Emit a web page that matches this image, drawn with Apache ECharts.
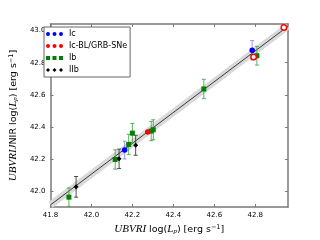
<!DOCTYPE html>
<html><head><meta charset="utf-8">
<script src="https://cdn.jsdelivr.net/npm/echarts@6/dist/echarts.min.js"></script>
<style>html,body{margin:0;background:#fff}#c{width:320px;height:240px}</style>
</head><body><div id="c"></div>
<script>
// tick labels
const xTicks = [41.8, 42.0, 42.2, 42.4, 42.6, 42.8];
const yTicks = [42.0, 42.2, 42.4, 42.6, 42.8, 43.0];
// Ic (blue)
const icX = [42.162, 42.785];
const icY = [42.258, 42.877];
const icErr = [0.055, 0.06];
// Ic-BL/GRB-SNe (red)
const icblX = [42.275, 42.792, 42.94];
const icblY = [42.370, 42.835, 43.018];
// Ib (green)
const ibX = [41.890, 42.116, 42.182, 42.200, 42.292, 42.302, 42.549, 42.808];
const ibY = [41.966, 42.200, 42.293, 42.363, 42.376, 42.384, 42.637, 42.843];
const ibErr = [0.057, 0.06, 0.063, 0.06, 0.06, 0.062, 0.06, 0.058];
// IIb (black)
const iibX = [41.925, 42.135, 42.216];
const iibY = [42.030, 42.204, 42.288];
const iibErr = [0.064, 0.06, 0.062];
// fit line endpoints
const fitX = [41.8, 42.96];
const fitY = [41.918, 43.026];

const XMIN = 41.8, XMAX = 42.96, YMIN = 41.905, YMAX = 43.04;

function errSeries(xs, ys, es, color) {
  return {
    type: 'custom', z: 3, silent: true,
    data: xs.map((x, i) => [x, ys[i], es[i]]),
    encode: {x: 0, y: 1},
    renderItem: (params, api) => {
      const x = api.value(0), y = api.value(1), e = api.value(2);
      const lo = api.coord([x, y - e]), hi = api.coord([x, y + e]);
      const w = 2;
      const st = {stroke: color, lineWidth: 0.9};
      return {type: 'group', children: [
        {type: 'line', shape: {x1: lo[0], y1: lo[1], x2: hi[0], y2: hi[1]}, style: st},
        {type: 'line', shape: {x1: lo[0] - w, y1: lo[1], x2: lo[0] + w, y2: lo[1]}, style: st},
        {type: 'line', shape: {x1: hi[0] - w, y1: hi[1], x2: hi[0] + w, y2: hi[1]}, style: st}
      ]};
    }
  };
}
const pts = (xs, ys) => xs.map((x, i) => [x, ys[i]]);

const rich = {
  i: {fontFamily: 'Liberation Serif', fontStyle: 'italic', fontSize: 11, color: '#000'},
  s: {fontFamily: 'Liberation Serif', fontStyle: 'italic', fontSize: 7, verticalAlign: 'bottom', color: '#000'},
  u: {fontFamily: 'DejaVu Sans', fontSize: 6.5, verticalAlign: 'top', color: '#000'}
};
const nameStyle = {fontFamily: 'DejaVu Sans', fontSize: 9.5, color: '#000', rich: rich};

const axLine = {lineStyle: {color: '#7a7a7a', width: 1.5}};
const tick = (vals) => ({inside: true, length: 3, customValues: vals, lineStyle: {color: '#7a7a7a', width: 1}});
const lab = (vals) => ({customValues: vals, fontFamily: 'DejaVu Sans', fontSize: 7, color: '#000', margin: 5,
  formatter: v => Number(v).toFixed(1)});

const option = {
  animation: false,
  backgroundColor: '#fff',
  grid: {left: 40, right: 32, top: 24, bottom: 25},
  xAxis: [
    {type: 'value', min: XMIN, max: XMAX, axisLine: axLine, axisTick: tick(xTicks), axisLabel: lab(xTicks),
     splitLine: {show: false},
     name: '{i|UBVRI} log({i|L}{s|p}) [erg s{u|−1}]', nameLocation: 'middle', nameGap: 17, nameTextStyle: nameStyle},
    {type: 'value', position: 'top', min: XMIN, max: XMAX, axisLine: axLine, axisTick: tick(xTicks),
     axisLabel: {show: false}, splitLine: {show: false}}
  ],
  yAxis: [
    {type: 'value', min: YMIN, max: YMAX, axisLine: axLine, axisTick: tick(yTicks), axisLabel: lab(yTicks),
     splitLine: {show: false},
     name: '{i|UBVRIJ}NIR log({i|L}{s|p}) [erg s{u|−1}]', nameLocation: 'middle', nameGap: 22, nameRotate: 90,
     nameTextStyle: nameStyle},
    {type: 'value', position: 'right', min: YMIN, max: YMAX, axisLine: axLine, axisTick: tick(yTicks),
     axisLabel: {show: false}, splitLine: {show: false}}
  ],
  legend: {
    orient: 'vertical', left: 44, top: 27, padding: [2, 3, 2, 2], itemGap: 2,
    itemWidth: 17, itemHeight: 4, borderColor: '#666', borderWidth: 1, backgroundColor: '#fff',
    textStyle: {fontFamily: 'DejaVu Sans', fontSize: 8, color: '#000', lineHeight: 10, padding: [0, 0, 0, 1]},
    data: [
      {name: 'Ic', icon: 'path://M0,2a2,2 0 1,0 4,0a2,2 0 1,0 -4,0M6.5,2a2,2 0 1,0 4,0a2,2 0 1,0 -4,0M13,2a2,2 0 1,0 4,0a2,2 0 1,0 -4,0'},
      {name: 'Ic-BL/GRB-SNe', icon: 'path://M0,2a2,2 0 1,0 4,0a2,2 0 1,0 -4,0M6.5,2a2,2 0 1,0 4,0a2,2 0 1,0 -4,0M13,2a2,2 0 1,0 4,0a2,2 0 1,0 -4,0'},
      {name: 'Ib', icon: 'path://M0,0h4v4h-4zM6.5,0h4v4h-4zM13,0h4v4h-4z'},
      {name: 'IIb', icon: 'path://M2,0L4,2L2,4L0,2zM8.5,0L10.5,2L8.5,4L6.5,2zM15,0L17,2L15,4L13,2z'}
    ]
  },
  series: [
    {type: 'line', name: 'band', data: pts(fitX, fitY), symbol: 'none', silent: true, z: 1,
     lineStyle: {color: '#d9d9d9', width: 7}},
    {type: 'line', name: 'fit', data: pts(fitX, fitY), symbol: 'none', silent: true, z: 2,
     lineStyle: {color: '#111', width: 0.8}},
    errSeries(ibX, ibY, ibErr, '#4aa84a'),
    errSeries(iibX, iibY, iibErr, '#3a3a3a'),
    errSeries(icX, icY, icErr, '#8c8cff'),
    {type: 'scatter', name: 'Ib', data: pts(ibX, ibY), symbol: 'rect', symbolSize: 5, z: 4,
     itemStyle: {color: '#008000', opacity: 1}},
    {type: 'scatter', name: 'IIb', data: pts(iibX, iibY), symbol: 'diamond', symbolSize: 5, z: 4,
     itemStyle: {color: '#000', opacity: 1}},
    {type: 'scatter', name: 'Ic', data: pts(icX, icY), symbol: 'circle', symbolSize: 5.5, z: 5,
     itemStyle: {color: '#0000ff', opacity: 1}},
    {type: 'scatter', name: 'Ic-BL/GRB-SNe', z: 5, symbol: 'circle', symbolSize: 5.5,
     itemStyle: {color: '#ff0000', opacity: 1},
     data: icblX.map((x, i) => i === 0 ? {value: [x, icblY[i]]} :
       {value: [x, icblY[i]], itemStyle: {color: '#fff', borderColor: '#ff0000', borderWidth: 1.5}})}
  ]
};
const chart = echarts.init(document.getElementById('c'), null, {renderer: 'canvas'});
chart.setOption(option);
</script></body></html>
